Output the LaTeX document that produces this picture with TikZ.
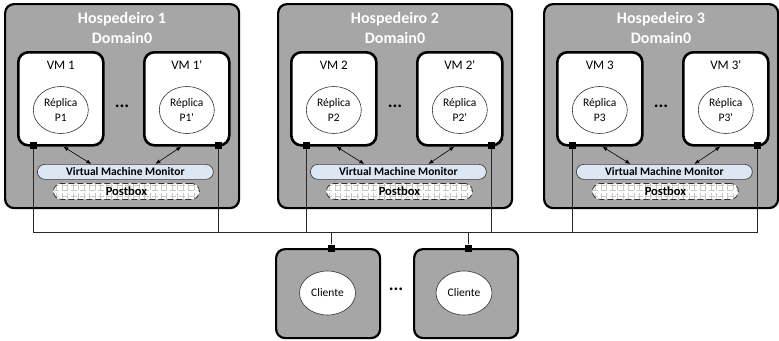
\documentclass[tikz,border=0pt]{standalone}
\usepackage{fontspec}
\setmainfont{Carlito}
\usetikzlibrary{arrows.meta,calc,shapes.geometric}

\definecolor{hostgray}{RGB}{166,166,166}
\definecolor{vmmblue}{RGB}{221,230,243}
\definecolor{gridgray}{RGB}{200,200,200}
\definecolor{wiregray}{RGB}{40,40,40}

\begin{document}
\begin{tikzpicture}[x=1pt,y=-1pt,
  hostbox/.style={draw=black, line width=2.2pt, fill=hostgray, rounded corners=9pt,
    minimum width=234, minimum height=204, anchor=north west, inner sep=0},
  hosttitle/.style={text=white, font=\fontsize{16}{20}\selectfont\bfseries, align=center, inner sep=0},
  vmbox/.style={draw=black, line width=2.6pt, fill=white, rounded corners=10pt,
    minimum width=85, minimum height=93, anchor=north west, inner sep=0},
  vmtitle/.style={font=\fontsize{13}{15}\selectfont, inner sep=0},
  replica/.style={ellipse, draw=black!80, line width=0.6pt, fill=white,
    minimum width=55, minimum height=47, inner sep=0, align=center,
    font=\fontsize{11.5}{15}\selectfont},
  dotsym/.style={font=\fontsize{18}{18}\selectfont\bfseries, inner sep=0},
  vmm/.style={draw=black!75, line width=0.7pt, fill=vmmblue, rounded corners=7.5pt,
    minimum width=176, minimum height=15, anchor=north west, inner sep=0,
    font=\fontsize{11.5}{13}\selectfont\bfseries},
  postbox/.style={draw=black!80, line width=0.8pt, dash pattern=on 6pt off 3pt,
    fill=white, rounded corners=8pt, minimum width=146, minimum height=16,
    anchor=north west, inner sep=0, font=\fontsize{12.5}{14}\selectfont\bfseries,
    path picture={\draw[gridgray, line width=0.4pt, step=5.5pt]
      (path picture bounding box.south west) grid (path picture bounding box.north east);}},
  port/.style={fill=black, draw=none, minimum size=7, inner sep=0},
  dbl/.style={line width=0.6pt, {Latex[length=5pt,width=4pt]}-{Latex[length=5pt,width=4pt]}},
  wire/.style={draw=wiregray, line width=0.7pt},
  clientbox/.style={draw=black, line width=2.2pt, fill=hostgray, rounded corners=9pt,
    minimum width=104, minimum height=89, anchor=north west, inner sep=0},
  clientnode/.style={ellipse, draw=black!80, line width=0.6pt, fill=white,
    minimum width=56, minimum height=44, inner sep=0, font=\fontsize{11.5}{13}\selectfont}
]
\useasboundingbox (0,0) rectangle (779,340);

% the three hosts, each with two virtual machines, monitor and postbox
\foreach \i/\x in {1/4, 2/277, 3/543} {
  \node[hostbox] (h\i) at (\x,3) {};
  \node[hosttitle] (t\i) at (\x+118,27.5) {Hospedeiro \i\\Domain0};

  \node[vmbox] (vma\i) at (\x+13,51) {};
  \node[vmtitle] at ($(vma\i.north)+(0,14)$) {VM \i};
  \node[replica] (ra\i) at ($(vma\i.north)+(0,59)$) {Réplica\\P\i};

  \node[vmbox] (vmb\i) at (\x+139,51) {};
  \node[vmtitle] at ($(vmb\i.north)+(0,14)$) {VM \i\textquotesingle};
  \node[replica] (rb\i) at ($(vmb\i.north)+(0,59)$) {Réplica\\P\i\textquotesingle};

  \node[dotsym] (d\i) at (\x+118,106) {...};

  \node[vmm] (vmm\i) at (\x+33,164) {Virtual Machine Monitor};
  \node[postbox] (pb\i) at (\x+49,183) {Postbox};

  \draw[dbl] ([xshift=2.5pt]vma\i.south) -- ([xshift=-34pt]vmm\i.north);
  \draw[dbl] ([xshift=-5.5pt]vmb\i.south) -- ([xshift=30pt]vmm\i.north);

  \node[port] (pta\i) at (\x+29,145) {};
  \node[port] (ptb\i) at (\x+214,145) {};
}

% clients
\node[clientbox] (cb1) at (275,248) {};
\node[clientbox] (cb2) at (413,248) {};
\node[clientnode] (c1) at (327.5,293) {Cliente};
\node[clientnode] (c2) at (464,293) {Cliente};
\node[dotsym] (dc) at (396,289) {...};
\node[port] (cp1) at (331,248) {};
\node[port] (cp2) at (468,248) {};

% shared network bus
\coordinate (bus) at (0,232);
\draw[wire] (pta1) |- (bus -| ptb3) -- (ptb3);
\foreach \p in {ptb1, pta2, ptb2, pta3, cp1, cp2}
  \draw[wire] (\p) -- (\p |- bus);
\end{tikzpicture}
\end{document}
